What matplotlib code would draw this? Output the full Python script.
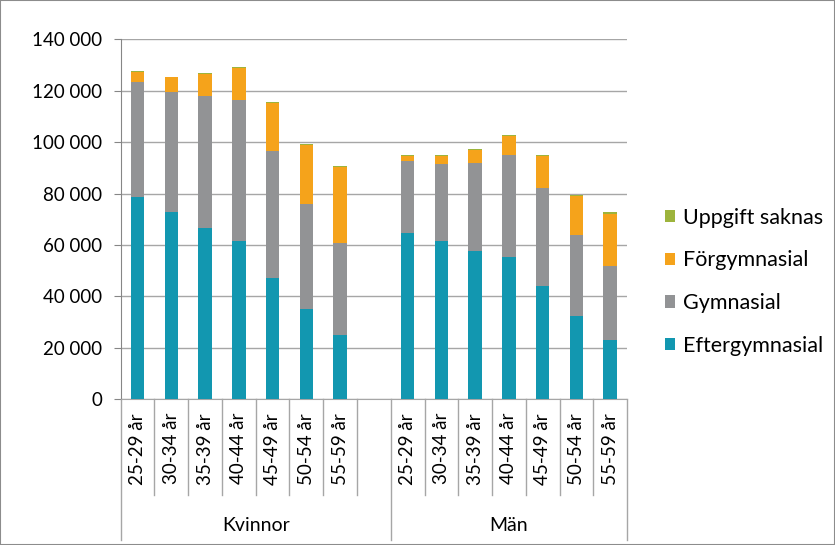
import numpy as np
import matplotlib.pyplot as plt
from matplotlib.patches import Rectangle
from matplotlib.ticker import FuncFormatter
import matplotlib.transforms as mtransforms

plt.rcParams["font.family"] = ["Lato", "DejaVu Sans"]

ages = ["25-29 år", "30-34 år", "35-39 år", "40-44 år", "45-49 år", "50-54 år", "55-59 år"]
groups = ["Kvinnor", "Män"]
series = ["Eftergymnasial", "Gymnasial", "Förgymnasial", "Uppgift saknas"]
colors = ["#1297B0", "#929395", "#F5A31B", "#9DB43C"]

# Kvinnor
kv_eft = [78800, 72700, 66800, 61400, 47000, 35200, 24900]
kv_gym = [44700, 46900, 51200, 54900, 49700, 40600, 36000]
kv_forg = [3800, 5600, 8400, 12700, 18400, 23200, 29300]
kv_saknas = [400, 300, 400, 400, 400, 300, 600]

# Män
man_eft = [64600, 61600, 57600, 55300, 44100, 32400, 23200]
man_gym = [28100, 29900, 34300, 39700, 38200, 31600, 28800]
man_forg = [1950, 3100, 4900, 7500, 12300, 14900, 20000]
man_saknas = [400, 400, 500, 400, 400, 400, 800]

fig = plt.figure(figsize=(8.35, 5.45), dpi=100)
ax = fig.add_axes([0.1445, 0.2673, 0.6065, 0.6606])

x_kv = np.arange(len(ages))
x_man = np.arange(len(ages)) + len(ages) + 1
x = np.concatenate([x_kv, x_man])

data = [
    np.array(kv_eft + man_eft),
    np.array(kv_gym + man_gym),
    np.array(kv_forg + man_forg),
    np.array(kv_saknas + man_saknas),
]

bottom = np.zeros(len(x))
handles = []
for vals, name, col in zip(data, series, colors):
    h = ax.bar(x, vals, bottom=bottom, width=0.4, color=col, label=name, zorder=3)
    handles.append(h)
    bottom = bottom + vals

ax.set_xlim(-0.5, x[-1] + 0.5)
ax.set_ylim(0, 140000)
ax.set_yticks(np.arange(0, 140001, 20000))
ax.yaxis.set_major_formatter(FuncFormatter(lambda v, p: f"{int(v):,}".replace(",", " ")))
ax.tick_params(axis="y", labelsize=13.5, length=5, color="#868686", labelcolor="#000000", pad=8)
ax.set_xticks([])
ax.grid(axis="y", color="#A6A6A6", lw=1, zorder=0)
for s in ["top", "right"]:
    ax.spines[s].set_visible(False)
ax.spines["left"].set_color("#868686")
ax.spines["bottom"].set_color("#A6A6A6")

# category axis drawn by hand
trans = mtransforms.blended_transform_factory(ax.transData, ax.transAxes)
labels = ages + ages
for xi, lab in zip(x, labels):
    ax.text(xi, -0.038, lab, transform=trans, rotation=90, ha="center", va="top",
            fontsize=13.5)

n = len(x_man) + len(x_kv) + 1
for b in np.arange(-0.5, n, 1.0):
    long = b in (-0.5, len(ages) + 0.5, n - 0.5)
    y_end = -0.39 if long else -0.267
    ax.plot([b, b], [0, y_end], transform=trans, color="#A6A6A6", lw=1, clip_on=False)

group_centers = [(-0.5 + len(ages) + 0.5) / 2, (len(ages) + 0.5 + n - 0.5) / 2]
for gc, g in zip(group_centers, groups):
    ax.text(gc, -0.35, g, transform=trans, ha="center", va="center", fontsize=14)

ax.legend(handles[::-1], series[::-1], loc="center left", bbox_to_anchor=(0.796, 0.483),
          bbox_transform=fig.transFigure, frameon=False, fontsize=15.5,
          handlelength=0.5, handleheight=0.5, handletextpad=0.35, labelspacing=1.05,
          borderpad=0, borderaxespad=0)

fig.patches.append(Rectangle((0, 0), 1, 1, transform=fig.transFigure, fill=False,
                             edgecolor="#8C8C8C", lw=1.5))

fig.savefig("out.png", dpi=100)
